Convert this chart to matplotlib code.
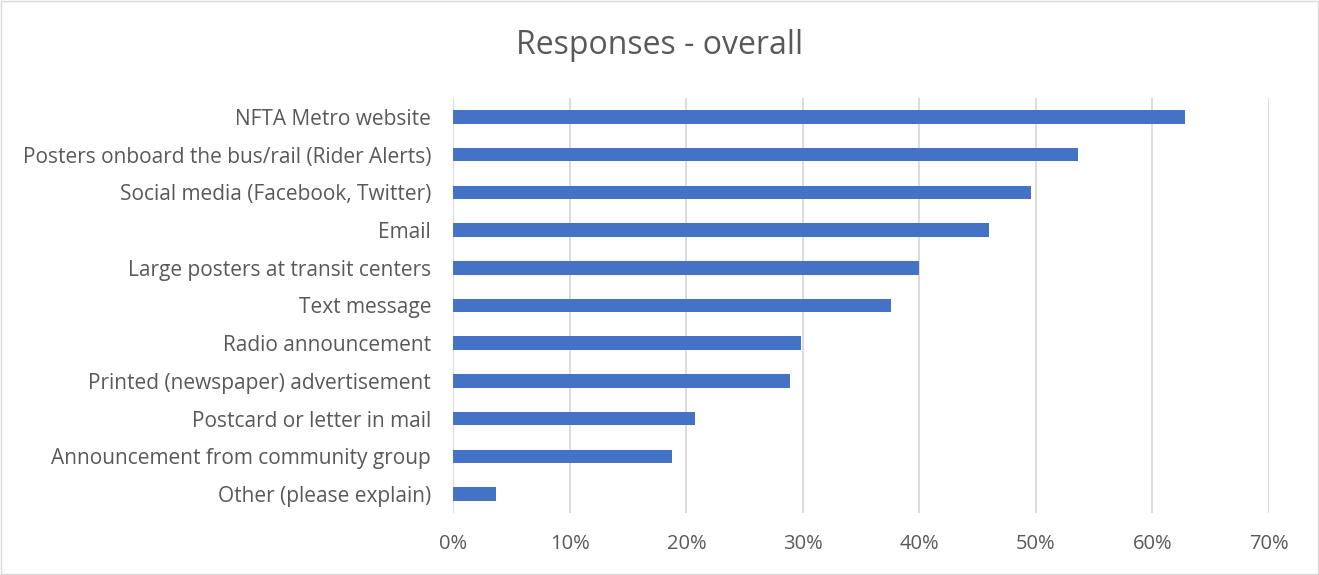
import matplotlib
matplotlib.use("Agg")
import matplotlib.pyplot as plt
from matplotlib.ticker import PercentFormatter

# data (percent of responses)
categories = [
    "NFTA Metro website",
    "Posters onboard the bus/rail (Rider Alerts)",
    "Social media (Facebook, Twitter)",
    "Email",
    "Large posters at transit centers",
    "Text message",
    "Radio announcement",
    "Printed (newspaper) advertisement",
    "Postcard or letter in mail",
    "Announcement from community group",
    "Other (please explain)",
]
values = [62.8, 53.6, 49.6, 46.0, 40.0, 37.6, 29.8, 28.9, 20.7, 18.8, 3.7]
xticks = [0, 10, 20, 30, 40, 50, 60, 70]

plt.rcParams['font.family'] = ['Open Sans', 'DejaVu Sans']
TEXT = '#595959'

fig = plt.figure(figsize=(13.19, 5.75), dpi=100)
ax = fig.add_axes([453.3 / 1319, 1 - 513 / 575, (1269 - 453.3) / 1319, (513 - 98) / 575])

ypos = list(range(len(categories)))
ax.barh(ypos, values, height=0.36, color='#4472c4', zorder=3)
ax.set_ylim(len(categories) - 0.5, -0.5)
ax.set_yticks(ypos)
ax.set_yticklabels(categories)
ax.set_xlim(0, 70)
ax.set_xticks(xticks)
ax.xaxis.set_major_formatter(PercentFormatter(decimals=0))
ax.grid(axis='x', color='#d9d9d9', linewidth=1.3, zorder=0)
for s in ax.spines.values():
    s.set_visible(False)
ax.tick_params(axis='both', length=0, labelcolor=TEXT)
ax.tick_params(axis='y', labelsize=15, pad=16)
ax.tick_params(axis='x', labelsize=14.5, pad=15)

fig.text(0.5, 1 - 45 / 575, "Responses - overall", ha='center', va='center',
         fontsize=23, color=TEXT)

# chart border
fig.patches.append(plt.Rectangle((0.001, 0.001), 0.998, 0.998, transform=fig.transFigure,
                                 fill=False, edgecolor='#d9d9d9', linewidth=1))

fig.savefig("out.png", dpi=100)
